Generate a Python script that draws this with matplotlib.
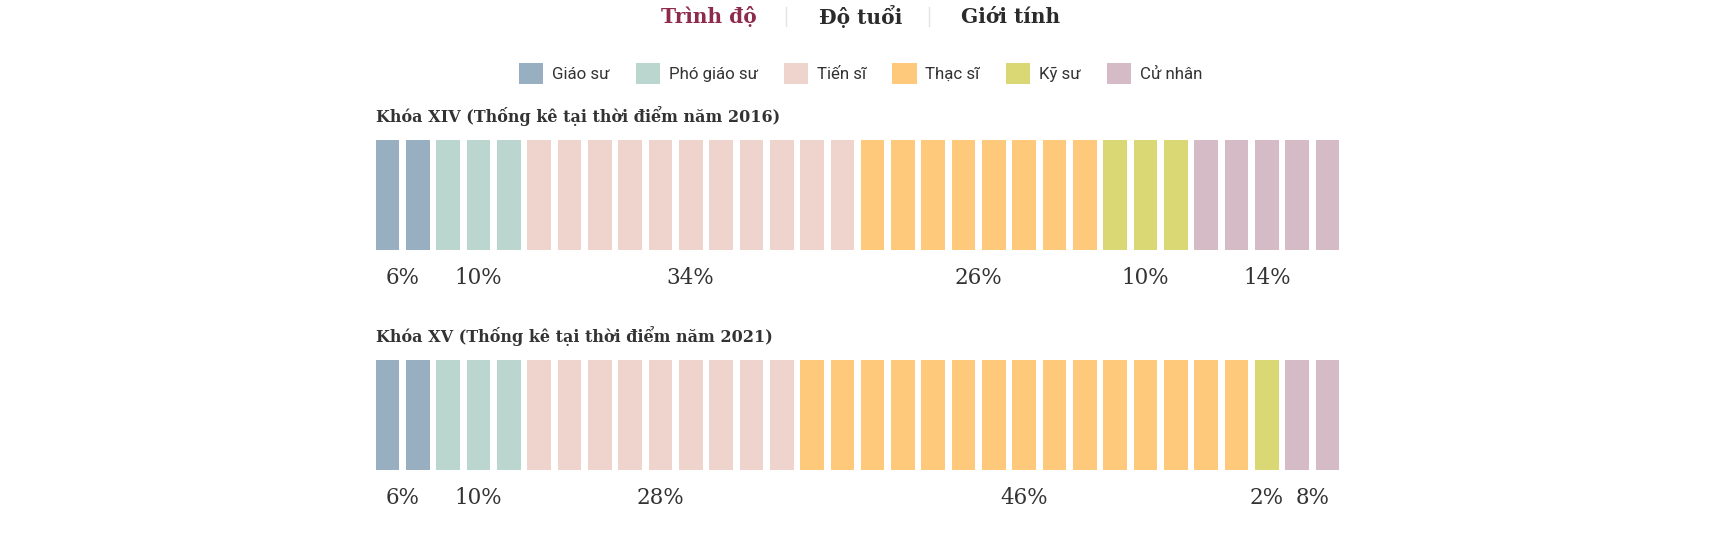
import matplotlib
matplotlib.use("Agg")
from matplotlib import pyplot as plt
from matplotlib.patches import Patch
from matplotlib.lines import Line2D
import matplotlib.transforms as mtransforms

# data
categories = ['Giáo sư', 'Phó giáo sư', 'Tiến sĩ', 'Thạc sĩ', 'Kỹ sư', 'Cử nhân']
colors = ['#98aec1', '#bbd6cf', '#efd3cd', '#fec97b', '#d9d875', '#d5bbc5']
counts_2016 = [2, 3, 11, 8, 3, 5]
counts_2021 = [2, 3, 9, 15, 1, 2]
pct_2016 = ['6%', '10%', '34%', '26%', '10%', '14%']
pct_2021 = ['6%', '10%', '28%', '46%', '2%', '8%']
title_2016 = 'Khóa XIV (Thống kê tại thời điểm năm 2016)'
title_2021 = 'Khóa XV (Thống kê tại thời điểm năm 2021)'
tabs = ['Trình độ', 'Độ tuổi', 'Giới tính']

serif = 'DejaVu Serif'
sans = 'Roboto'
txt = '#333333'

fig = plt.figure(figsize=(17.21, 5.57), dpi=100)
fig.patch.set_facecolor('white')

# top tabs
tab_x = [0.412, 0.500, 0.5874]
tab_c = ['#8e2a4c', '#2b2b2b', '#2b2b2b']
for t, x, c in zip(tabs, tab_x, tab_c):
    fig.text(x, 0.970, t, ha='center', va='center', fontsize=14.5,
             fontweight='bold', family=serif, color=c)
for x in [0.4567, 0.540]:
    fig.add_artist(Line2D([x, x], [1 - 6.6 / 557, 1 - 26 / 557],
                          transform=fig.transFigure, color='#e3e3e3', lw=1))

# legend
handles = [Patch(facecolor=c, edgecolor='none', label=l) for l, c in zip(categories, colors)]
fig.legend(handles=handles, loc='center', bbox_to_anchor=(0.5, 0.868), ncol=6,
           frameon=False, prop={'family': sans, 'size': 12.2},
           handlelength=1.45, handleheight=1.45, handletextpad=0.5,
           columnspacing=1.55, labelcolor=txt)


def draw_row(bottom, counts, labels, title, title_y, label_y):
    ax = fig.add_axes([375.6 / 1721, bottom, 963.8 / 1721, 110 / 557])
    idx = 0
    centers = []
    for n, c in zip(counts, colors):
        xs = list(range(idx, idx + n))
        ax.bar(xs, [1] * n, width=0.78, color=c, align='center')
        centers.append(idx + (n - 1) / 2)
        idx += n
    ax.set_xlim(-0.39, idx - 1 + 0.39)
    ax.set_ylim(0, 1)
    ax.axis('off')
    trans = mtransforms.blended_transform_factory(ax.transData, ax.transAxes)
    for cx, lab in zip(centers, labels):
        ax.text(cx, label_y, lab, transform=trans, ha='center', va='center',
                fontsize=15.5, family=serif, color=txt)
    fig.text(375.6 / 1721, title_y, title, ha='left', va='center',
             fontsize=11.5, fontweight='bold', family=serif, color=txt)
    return ax


draw_row(1 - 250 / 557, counts_2016, pct_2016, title_2016, 0.792, -0.25)
draw_row(1 - 470 / 557, counts_2021, pct_2021, title_2021, 0.397, -0.25)

fig.savefig('out.png', dpi=100, facecolor='white')
